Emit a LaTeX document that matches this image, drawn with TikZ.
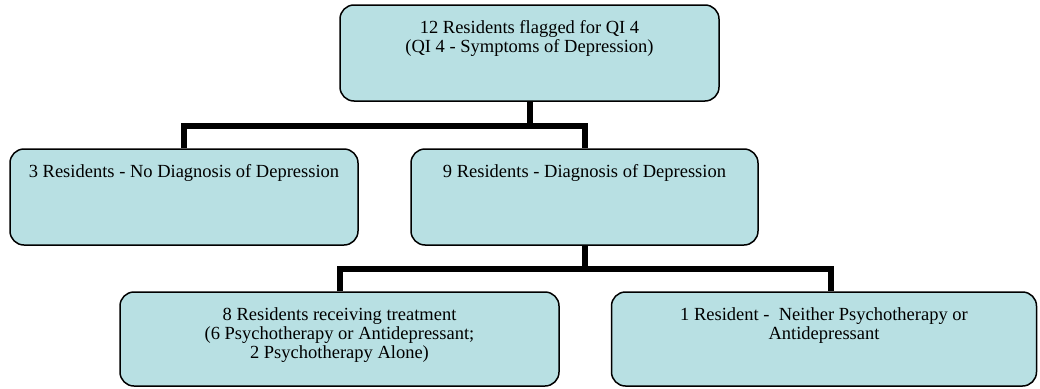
\documentclass[tikz,border=0pt]{standalone}
\usepackage{fontspec}
\setmainfont{Liberation Serif}
\usepackage{xcolor}
\usetikzlibrary{positioning}

\definecolor{boxfill}{HTML}{B8E0E3}
\newcommand{\boxtxt}[3]{\parbox[c][#2][t]{#1}{\centering\vspace*{15pt}\strut #3}}

\begin{document}
\begin{tikzpicture}[x=1pt, y=-1pt,
    box/.style={draw=black, line width=1.5pt, fill=boxfill, rounded corners=14pt,
        inner sep=0pt, font=\fontsize{18.5}{19}\selectfont},
    conn/.style={line width=6pt, line join=miter}]
\useasboundingbox (0,0) rectangle (1040,388);

% QI 4 flag
\node[box] (flagged) at (529.5,53) {\boxtxt{379pt}{96pt}{12 Residents flagged for QI 4\\(QI 4 - Symptoms of Depression)}};

% diagnosis split
\node[box] (nodx) at (184,197) {\boxtxt{348pt}{96pt}{3 Residents - No Diagnosis of Depression}};
\node[box] (dx) at (584.5,197) {\boxtxt{347pt}{96pt}{9 Residents - Diagnosis of Depression}};

% treatment split
\node[box] (treated) at (339.5,339) {\boxtxt{439pt}{94pt}{8 Residents receiving treatment\\(6 Psychotherapy or Antidepressant;\\2 Psychotherapy Alone)}};
\node[box] (untreated) at (824,339) {\boxtxt{425pt}{94pt}{1 Resident - \ Neither Psychotherapy or\\Antidepressant}};

% connectors
\coordinate (split1) at (0,126);
\draw[conn] (flagged.south) -- (flagged.south |- split1);
\draw[conn] (nodx.north) |- (dx.north |- split1) -- (dx.north);

\coordinate (split2) at (0,269);
\draw[conn] (dx.south) -- (dx.south |- split2);
\draw[conn] (treated.north) |- ([xshift=7pt]untreated.north |- split2) -- ([xshift=7pt]untreated.north);
\end{tikzpicture}
\end{document}
